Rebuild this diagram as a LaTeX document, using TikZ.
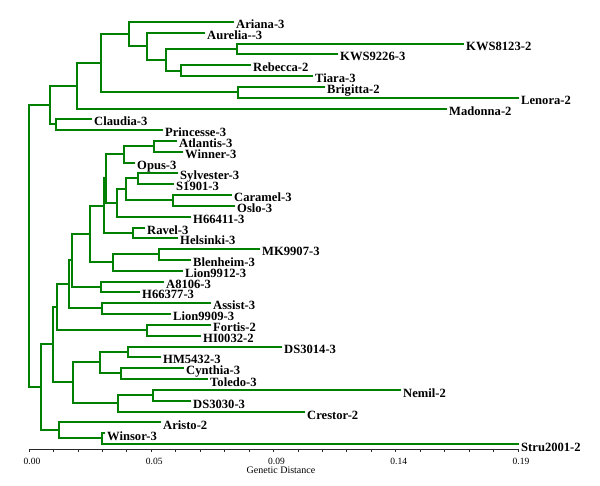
\documentclass[tikz,border=0pt]{standalone}
\usepackage{fontspec}
\setmainfont{Liberation Serif}
\definecolor{treegreen}{RGB}{0,128,0}
\definecolor{axisgray}{RGB}{40,40,40}
\begin{document}
\begin{tikzpicture}[x=1pt,y=-1pt,
  br/.style={draw=treegreen, line width=2.4pt, line cap=rect, line join=miter},
  lbl/.style={anchor=base west, inner sep=0pt, xshift=3pt, yshift=-7pt,
    font=\fontsize{12.6}{13}\selectfont\bfseries},
  axisline/.style={draw=axisgray, line width=0.8pt},
  ticklbl/.style={anchor=base, inner sep=0pt, font=\fontsize{9.5}{11}\selectfont},
  axtitle/.style={anchor=base, inner sep=0pt, font=\fontsize{10}{12}\selectfont}]
\useasboundingbox (0,0) rectangle (600,486);
% leaves
\foreach \x/\y/\t [count=\i from 0] in {
  233/22/Ariana-3, 204/33/Aurelia-{}-3, 463/44/KWS8123-2, 337/54/KWS9226-3,
  250/65/Rebecca-2, 312/76/Tiara-3, 324/87/Brigitta-2, 518/98/Lenora-2,
  446/109/Madonna-2, 91/119/Claudia-3, 162/130/Princesse-3, 176/141/Atlantis-3,
  182/152/Winner-3, 134/163/Opus-3, 177/173/Sylvester-3, 173/184/S1901-3,
  231/195/Caramel-3, 234/206/Oslo-3, 190/217/H66411-3, 144/228/Ravel-3,
  177/238/Helsinki-3, 259/249/MK9907-3, 190/260/Blenheim-3, 182/271/Lion9912-3,
  163/282/A8106-3, 139/292/H66377-3, 210/303/Assist-3, 170/314/Lion9909-3,
  210/325/Fortis-2, 200/336/HI0032-2, 281/347/DS3014-3, 160/357/HM5432-3,
  183/368/Cynthia-3, 207/379/Toledo-3, 400/390/Nemil-2, 190/401/DS3030-3,
  304/412/Crestor-2, 160/422/Aristo-2, 104/433/Winsor-3, 518/444/Stru2001-2}{
  \coordinate (l\i) at (\x,\y);
  \node[lbl] (t\i) at (l\i) {\t};
}
% internal nodes
\coordinate (KW) at (237,49);
\coordinate (RT) at (181,71);
\coordinate (X) at (166,60);
\coordinate (W) at (147,46);
\coordinate (V) at (129,34);
\coordinate (BL) at (238,92);
\coordinate (U) at (101,63);
\coordinate (TA) at (77,86);
\coordinate (CP) at (56,124);
\coordinate (T) at (50,105);
\coordinate (AW) at (154,146);
\coordinate (AWO) at (124,154);
\coordinate (SS) at (138,178);
\coordinate (CO) at (173,200);
\coordinate (SC) at (126,189);
\coordinate (SH) at (117,203);
\coordinate (Q) at (106,178);
\coordinate (RH) at (133,233);
\coordinate (P) at (104,206);
\coordinate (MB) at (159,254);
\coordinate (ML) at (113,262);
\coordinate (M) at (90,234);
\coordinate (AH) at (101,287);
\coordinate (L) at (72,260);
\coordinate (AL) at (102,308);
\coordinate (K) at (69,284);
\coordinate (FH) at (147,330);
\coordinate (J) at (57,307);
\coordinate (DH) at (128,352);
\coordinate (CT) at (121,373);
\coordinate (D1) at (100,362);
\coordinate (ND) at (153,395);
\coordinate (D2) at (118,403);
\coordinate (DS) at (73,382);
\coordinate (I) at (53,344);
\coordinate (WS) at (102,438);
\coordinate (AR) at (59,430);
\coordinate (H) at (41,387);
\coordinate (R) at (29,246);
% branches
\foreach \p/\a/\b in {KW/l2/l3, RT/l4/l5, X/KW/RT, W/l1/X, V/l0/W, BL/l6/l7,
  U/V/BL, TA/U/l8, CP/l9/l10, T/TA/CP, AW/l11/l12, AWO/AW/l13, SS/l14/l15,
  CO/l16/l17, SC/SS/CO, SH/SC/l18, Q/AWO/SH, RH/l19/l20, P/Q/RH, MB/l21/l22,
  ML/MB/l23, M/P/ML, AH/l24/l25, L/M/AH, AL/l26/l27, K/L/AL, FH/l28/l29,
  J/K/FH, DH/l30/l31, CT/l32/l33, D1/DH/CT, ND/l34/l35, D2/ND/l36, DS/D1/D2,
  I/J/DS, WS/l38/l39, AR/l37/WS, H/I/AR, R/T/H}{
  \draw[br] (\p) |- (\a) (\p) |- (\b);
}
% axis
\coordinate (a0) at (29,449);
\coordinate (a1) at (518,449);
\draw[axisline] (a0) -- (a1);
\foreach \k in {0,...,20}{
  \draw[axisline] (29+\k*24.45,449) -- ++(0,3);
}
\foreach \v [count=\k from 0] in {0.00,0.05,0.09,0.14,0.19}{
  \node[ticklbl] (ax\k) at (32+\k*122.25,464) {\v};
}
\node[axtitle] (title) at (281,473) {Genetic Distance};
\end{tikzpicture}
\end{document}
